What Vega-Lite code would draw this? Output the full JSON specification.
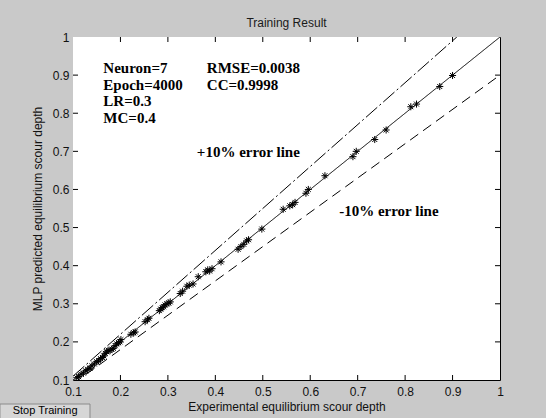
{
  "$schema": "https://vega.github.io/schema/vega-lite/v6.json",
  "width": 427,
  "height": 343,
  "autosize": {"type": "none"},
  "padding": {"left": 73, "top": 37, "right": 46, "bottom": 38},
  "background": "#c9c9c9",
  "title": {"text": "Training Result", "font": "Liberation Sans", "fontSize": 12, "fontWeight": "normal", "color": "#1a1a1a", "offset": 1},
  "config": {
    "view": {"fill": null, "stroke": null},
    "axis": {"grid": false, "domain": true, "domainColor": "black", "domainWidth": 1, "ticks": false, "zindex": 2, "labelFlush": false, "labelFont": "Liberation Sans", "labelFontSize": 12, "labelColor": "#111", "titleFont": "Liberation Sans", "titleFontSize": 12, "titleFontWeight": "normal", "titleColor": "#111"}
  },
  "datasets": {
    "lines": [
      {"series": "y=x", "x": 0.1, "y": 0.1},
      {"series": "y=x", "x": 1.0, "y": 1.0},
      {"series": "+10%", "x": 0.1, "y": 0.11},
      {"series": "+10%", "x": 0.909, "y": 1.0},
      {"series": "-10%", "x": 0.1, "y": 0.09},
      {"series": "-10%", "x": 1.0, "y": 0.9}
    ],
    "points": [
      {"x": 0.108, "y": 0.106}, {"x": 0.112, "y": 0.109}, {"x": 0.117, "y": 0.115}, {"x": 0.122, "y": 0.118},
      {"x": 0.127, "y": 0.124}, {"x": 0.131, "y": 0.128}, {"x": 0.136, "y": 0.131}, {"x": 0.140, "y": 0.137},
      {"x": 0.145, "y": 0.142}, {"x": 0.150, "y": 0.148}, {"x": 0.154, "y": 0.150}, {"x": 0.158, "y": 0.156},
      {"x": 0.162, "y": 0.159}, {"x": 0.165, "y": 0.163}, {"x": 0.168, "y": 0.170}, {"x": 0.171, "y": 0.174},
      {"x": 0.174, "y": 0.178}, {"x": 0.178, "y": 0.177}, {"x": 0.182, "y": 0.181}, {"x": 0.185, "y": 0.183},
      {"x": 0.189, "y": 0.190}, {"x": 0.192, "y": 0.195}, {"x": 0.196, "y": 0.198}, {"x": 0.199, "y": 0.200},
      {"x": 0.201, "y": 0.206}, {"x": 0.222, "y": 0.220}, {"x": 0.228, "y": 0.224}, {"x": 0.231, "y": 0.226},
      {"x": 0.252, "y": 0.253}, {"x": 0.257, "y": 0.258}, {"x": 0.260, "y": 0.262}, {"x": 0.282, "y": 0.282},
      {"x": 0.285, "y": 0.286}, {"x": 0.288, "y": 0.290}, {"x": 0.291, "y": 0.292}, {"x": 0.294, "y": 0.297},
      {"x": 0.298, "y": 0.300}, {"x": 0.302, "y": 0.302}, {"x": 0.305, "y": 0.305}, {"x": 0.326, "y": 0.327},
      {"x": 0.331, "y": 0.333}, {"x": 0.340, "y": 0.346}, {"x": 0.345, "y": 0.349}, {"x": 0.353, "y": 0.352},
      {"x": 0.364, "y": 0.371}, {"x": 0.380, "y": 0.384}, {"x": 0.384, "y": 0.389}, {"x": 0.388, "y": 0.386},
      {"x": 0.393, "y": 0.392}, {"x": 0.412, "y": 0.410}, {"x": 0.448, "y": 0.443}, {"x": 0.454, "y": 0.450},
      {"x": 0.460, "y": 0.456}, {"x": 0.466, "y": 0.465}, {"x": 0.470, "y": 0.468}, {"x": 0.498, "y": 0.496},
      {"x": 0.543, "y": 0.548}, {"x": 0.557, "y": 0.557}, {"x": 0.563, "y": 0.560}, {"x": 0.568, "y": 0.566},
      {"x": 0.591, "y": 0.590}, {"x": 0.596, "y": 0.600}, {"x": 0.631, "y": 0.636}, {"x": 0.690, "y": 0.686},
      {"x": 0.697, "y": 0.700}, {"x": 0.736, "y": 0.731}, {"x": 0.760, "y": 0.756}, {"x": 0.812, "y": 0.817},
      {"x": 0.824, "y": 0.824}, {"x": 0.873, "y": 0.870}, {"x": 0.900, "y": 0.899}
    ],
    "ticks": [{"v": 0.2}, {"v": 0.3}, {"v": 0.4}, {"v": 0.5}, {"v": 0.6}, {"v": 0.7}, {"v": 0.8}, {"v": 0.9}],
    "one": [{}]
  },
  "layer": [
    {
      "data": {"name": "one"},
      "mark": {"type": "rect", "fill": "white", "strokeWidth": 0},
      "encoding": {
        "x": {"datum": 0.1, "type": "quantitative", "scale": {"domain": [0.1, 1], "nice": false, "zero": false}, "axis": null},
        "x2": {"datum": 1},
        "y": {"datum": 0.1, "type": "quantitative", "scale": {"domain": [0.1, 1], "nice": false, "zero": false}, "axis": null},
        "y2": {"datum": 1}
      }
    },
    {
      "data": {"name": "ticks"},
      "mark": {"type": "tick", "orient": "vertical", "clip": true, "color": "black", "size": 10, "thickness": 1, "opacity": 1},
      "encoding": {"x": {"field": "v", "type": "quantitative", "axis": null}, "y": {"datum": 0.1, "type": "quantitative", "axis": null}}
    },
    {
      "data": {"name": "ticks"},
      "mark": {"type": "tick", "orient": "vertical", "clip": true, "color": "black", "size": 10, "thickness": 1, "opacity": 1},
      "encoding": {"x": {"field": "v", "type": "quantitative", "axis": null}, "y": {"datum": 1, "type": "quantitative", "axis": null}}
    },
    {
      "data": {"name": "ticks"},
      "mark": {"type": "tick", "orient": "horizontal", "clip": true, "color": "black", "size": 10, "thickness": 1, "opacity": 1},
      "encoding": {"y": {"field": "v", "type": "quantitative", "axis": null}, "x": {"datum": 0.1, "type": "quantitative", "axis": null}}
    },
    {
      "data": {"name": "ticks"},
      "mark": {"type": "tick", "orient": "horizontal", "clip": true, "color": "black", "size": 10, "thickness": 1, "opacity": 1},
      "encoding": {"y": {"field": "v", "type": "quantitative", "axis": null}, "x": {"datum": 1, "type": "quantitative", "axis": null}}
    },
    {
      "data": {"name": "lines"},
      "mark": {"type": "line", "clip": true, "color": "black", "strokeWidth": 1},
      "encoding": {
        "x": {"field": "x", "type": "quantitative",
              "axis": {"values": [0.1, 0.2, 0.3, 0.4, 0.5, 0.6, 0.7, 0.8, 0.9, 1], "format": "~g", "labelPadding": 6, "title": "Experimental equilibrium scour depth", "titlePadding": 4}},
        "y": {"field": "y", "type": "quantitative",
              "axis": {"values": [0.1, 0.2, 0.3, 0.4, 0.5, 0.6, 0.7, 0.8, 0.9, 1], "format": "~g", "labelPadding": 4, "title": "MLP predicted equilibrium scour depth", "titlePadding": 8}},
        "detail": {"field": "series"},
        "strokeDash": {"field": "series", "type": "nominal", "legend": null,
                       "scale": {"domain": ["y=x", "+10%", "-10%"], "range": [[1, 0], [15, 3, 2, 3], [10, 6]]}}
      }
    },
    {
      "data": {"name": "points"},
      "mark": {"type": "point", "clip": true, "shape": "M0,-1L0,1M-1,0L1,0M-0.7,-0.7L0.7,0.7M-0.7,0.7L0.7,-0.7", "filled": false, "stroke": "black", "strokeWidth": 1, "size": 50, "opacity": 1},
      "encoding": {
        "x": {"field": "x", "type": "quantitative", "axis": {"orient": "top", "labels": false, "title": null}},
        "y": {"field": "y", "type": "quantitative", "axis": {"orient": "right", "labels": false, "title": null}}
      }
    },
    {
      "data": {"name": "one"},
      "mark": {"type": "text", "text": ["Neuron=7", "Epoch=4000", "LR=0.3", "MC=0.4"], "font": "Liberation Serif", "fontWeight": "bold", "fontSize": 15, "lineHeight": 16.7, "align": "left", "baseline": "alphabetic", "color": "black"},
      "encoding": {"x": {"datum": 0.164, "type": "quantitative", "axis": null}, "y": {"datum": 0.9055, "type": "quantitative", "axis": null}}
    },
    {
      "data": {"name": "one"},
      "mark": {"type": "text", "text": ["RMSE=0.0038", "CC=0.9998"], "font": "Liberation Serif", "fontWeight": "bold", "fontSize": 15, "lineHeight": 16.7, "align": "left", "baseline": "alphabetic", "color": "black"},
      "encoding": {"x": {"datum": 0.382, "type": "quantitative", "axis": null}, "y": {"datum": 0.9055, "type": "quantitative", "axis": null}}
    },
    {
      "data": {"name": "one"},
      "mark": {"type": "text", "text": "+10% error line", "font": "Liberation Serif", "fontWeight": "bold", "fontSize": 15, "align": "left", "baseline": "alphabetic", "color": "black"},
      "encoding": {"x": {"datum": 0.361, "type": "quantitative", "axis": null}, "y": {"datum": 0.686, "type": "quantitative", "axis": null}}
    },
    {
      "data": {"name": "one"},
      "mark": {"type": "text", "text": "-10% error line", "font": "Liberation Serif", "fontWeight": "bold", "fontSize": 15, "align": "left", "baseline": "alphabetic", "color": "black"},
      "encoding": {"x": {"datum": 0.661, "type": "quantitative", "axis": null}, "y": {"datum": 0.530, "type": "quantitative", "axis": null}}
    },
    {
      "data": {"name": "one"},
      "mark": {"type": "rect", "clip": false, "fill": "#d6d6d6", "stroke": "#8a8a8a", "strokeWidth": 1},
      "encoding": {"x": {"datum": -0.054, "type": "quantitative", "axis": null}, "x2": {"datum": 0.1358}, "y": {"datum": 0.037, "type": "quantitative", "axis": null}, "y2": {"datum": -0.01}}
    },
    {
      "data": {"name": "one"},
      "mark": {"type": "text", "clip": false, "text": "Stop Training", "font": "Liberation Sans", "fontSize": 11, "align": "center", "baseline": "middle", "color": "black"},
      "encoding": {"x": {"datum": 0.0412, "type": "quantitative", "axis": null}, "y": {"datum": 0.0185, "type": "quantitative", "axis": null}}
    }
  ],
  "resolve": {"axis": {"x": "independent", "y": "independent"}}
}
